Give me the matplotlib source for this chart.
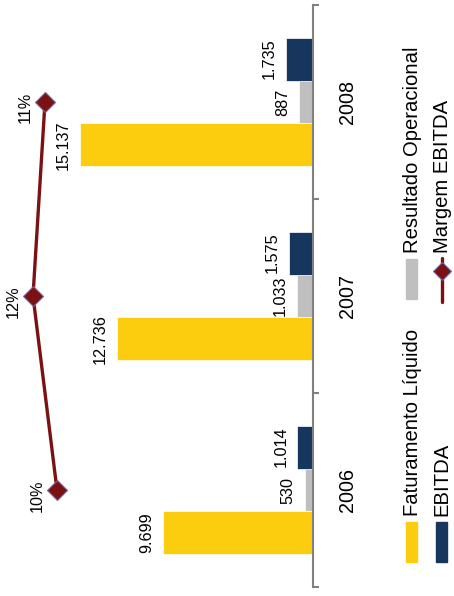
import matplotlib
matplotlib.use("Agg")
import matplotlib.pyplot as plt
from matplotlib.patches import Rectangle
from matplotlib.lines import Line2D
import numpy as np

plt.rcParams['font.family'] = ['Liberation Sans', 'DejaVu Sans']

# dados (R$ mil)
anos = ["2006", "2007", "2008"]
faturamento = [9699, 12736, 15137]
resultado_op = [530, 1033, 887]
ebitda = [1014, 1575, 1735]
margem = [10, 12, 11]
margem_txt = ["10%", "12%", "11%"]

amarelo = "#FCCC0F"
cinza = "#BFBFBF"
azul = "#17365D"
vermelho = "#7B1113"
borda = "#7464A8"

W, H = 454, 596
fig = plt.figure(figsize=(W / 100, H / 100), dpi=100)


def px(x, y):
    # pixel (a partir do canto superior esquerdo) -> coordenadas da figura
    return x / W, 1 - y / H


esq, dir_, topo, base = 19.3, 313, 5, 587
ax = fig.add_axes([esq / W, 1 - base / H, (dir_ - esq) / W, (base - topo) / H])

pos = np.arange(len(anos))
h = 0.2213

ax.barh(pos - h, faturamento, height=h, color=amarelo, edgecolor="white", linewidth=0.5)
ax.barh(pos, resultado_op, height=h, color=cinza, edgecolor="white", linewidth=0.5)
ax.barh(pos + h, ebitda, height=h, color=azul, edgecolor="white", linewidth=0.5)

ax.set_xlim(19046, 0)
ax.set_ylim(-0.5, len(anos) - 0.5)

# rotulos das barras
fmt = lambda v: f"{v:,}".replace(",", ".")
for serie, desl in [(faturamento, -h), (resultado_op, 0), (ebitda, h)]:
    for i, v in enumerate(serie):
        ax.annotate(fmt(v), (v, i + desl), xytext=(-6.5, 0), textcoords="offset points",
                    rotation=90, ha="right", va="center", fontsize=11.7)

for lado in ["left", "top", "bottom"]:
    ax.spines[lado].set_visible(False)
ax.spines["right"].set_color("#808080")
ax.spines["right"].set_linewidth(1.5)
ax.set_xticks([])
ax.set_yticks(np.arange(-0.5, len(anos)), [])
ax.set_yticks(pos, anos, minor=True)
ax.tick_params(axis="y", which="major", left=False, right=True, direction="out",
               length=4.3, width=1.5, color="#808080")
ax.tick_params(axis="y", which="minor", left=False, right=False, labelleft=False,
               labelright=True, pad=16, labelsize=14.2, labelrotation=90)
for t in ax.get_yticklabels(minor=True):
    t.set_va("center")

# margem EBITDA no eixo secundario
ax2 = ax.twiny()
ax2.plot(margem, pos, color=vermelho, linewidth=2.4, marker="D", markersize=10.5,
         markerfacecolor=vermelho, markeredgecolor=borda, markeredgewidth=0.8)
ax2.set_xlim(13.142, -11.333)
ax2.set_xticks([])
for s in ax2.spines.values():
    s.set_visible(False)
for i, v in enumerate(margem):
    ax2.annotate(margem_txt[i], (v, pos[i]), xytext=(-9, -4), textcoords="offset points",
                 rotation=90, ha="right", va="center", fontsize=11.7)

# legenda
itens = [
    (406, "patch", amarelo, "Faturamento Líquido", 522, 412),
    (406, "patch", cinza, "Resultado Operacional", 259, 412),
    (436, "patch", azul, "EBITDA", 522, 442),
    (436, "linha", vermelho, "Margem EBITDA", 259, 442),
]
for x0, tipo, cor, texto, y0, xt in itens:
    if tipo == "patch":
        fx, fy = px(x0, y0 + 40)
        fig.patches.append(Rectangle((fx, fy), 11 / W, 40 / H, color=cor,
                                     transform=fig.transFigure, figure=fig))
    else:
        x1, y1 = px(x0 + 5.5, y0 - 1)
        x2, y2 = px(x0 + 5.5, y0 + 43)
        fig.lines.append(Line2D([x1, x2], [y1, y2], color=cor, linewidth=2.4,
                                solid_capstyle="round", transform=fig.transFigure))
        xm, ym = px(x0 + 5.5, 271)
        fig.lines.append(Line2D([xm], [ym], marker="D", markersize=9, color=cor,
                                markeredgecolor=borda, markeredgewidth=0.8,
                                transform=fig.transFigure))
    tx, ty = px(xt, y0 - 6)
    fig.text(tx, ty, texto, rotation=90, ha="center", va="bottom", fontsize=14.6)

fig.savefig("out.png", dpi=100)
